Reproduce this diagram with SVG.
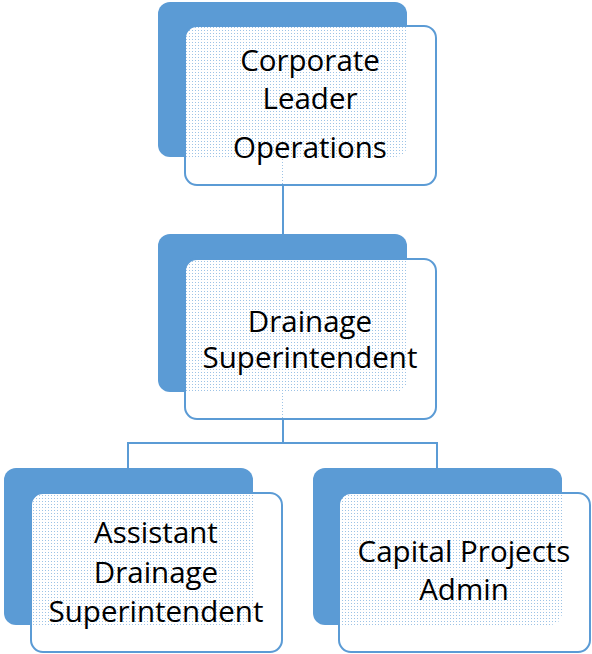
<svg xmlns="http://www.w3.org/2000/svg" width="592" height="654" viewBox="0 0 592 654">
<defs>
<pattern id="dots" patternUnits="userSpaceOnUse" width="3" height="3">
<path d="M1 0H3V3H0V1H1Z M0 0" fill="#ffffff"/>
<path d="M0 1H3V3H0Z" fill="none"/>
<rect x="0" y="0" width="1" height="1" fill="#ffffff" fill-opacity="0.4"/>
</pattern>
<pattern id="fill" patternUnits="userSpaceOnUse" width="3" height="3">
<rect x="0" y="0" width="3" height="3" fill="#ffffff"/>
</pattern>
</defs>
<style>
.back{fill:#5B9BD5;}
.front{fill:url(#dp);stroke:#5B9BD5;stroke-width:2;}
.conn{stroke:#5B9BD5;stroke-width:2;fill:none;}
text{font-family:"Open Sans","Noto Sans",sans-serif;font-size:29.5px;fill:#000;text-anchor:middle;}
</style>
<defs>
<pattern id="dp" patternUnits="userSpaceOnUse" width="3" height="3">
<path d="M1 0H3V3H0V1H1Z" fill="#ffffff"/>
<rect x="0" y="0" width="1" height="1" fill="#ffffff" fill-opacity="0.4"/>
<rect x="2" y="1" width="1" height="1" fill="#ffffff" fill-opacity="0.4"/>
</pattern>
</defs>
<g id="connectors">
<line class="conn" x1="283" y1="156" x2="283" y2="234"/>
<polyline class="conn" points="283,392 283,443"/>
<polyline class="conn" points="128,468 128,443 437,443 437,468"/>
</g>
<g id="node-corporate">
<rect class="back" x="158" y="2" width="249" height="155" rx="12"/>
<rect class="front" x="185" y="26" width="251" height="159" rx="12"/>
<text x="310" y="71">Corporate</text>
<text x="310" y="109">Leader</text>
<text x="310" y="158">Operations</text>
</g>
<g id="node-drainage">
<rect class="back" x="158" y="234" width="249" height="158" rx="12"/>
<rect class="front" x="185" y="259" width="251" height="160" rx="12"/>
<text x="310" y="332">Drainage</text>
<text x="310" y="368">Superintendent</text>
</g>
<g id="node-assistant">
<rect class="back" x="4" y="468" width="249" height="157" rx="12"/>
<rect class="front" x="31" y="493" width="251" height="159" rx="12"/>
<text x="156" y="543">Assistant</text>
<text x="156" y="583">Drainage</text>
<text x="156" y="622">Superintendent</text>
</g>
<g id="node-capital">
<rect class="back" x="313" y="468" width="249" height="157" rx="12"/>
<rect class="front" x="339" y="493" width="251" height="159" rx="12"/>
<text x="464" y="562">Capital Projects</text>
<text x="464" y="600">Admin</text>
</g>
</svg>
